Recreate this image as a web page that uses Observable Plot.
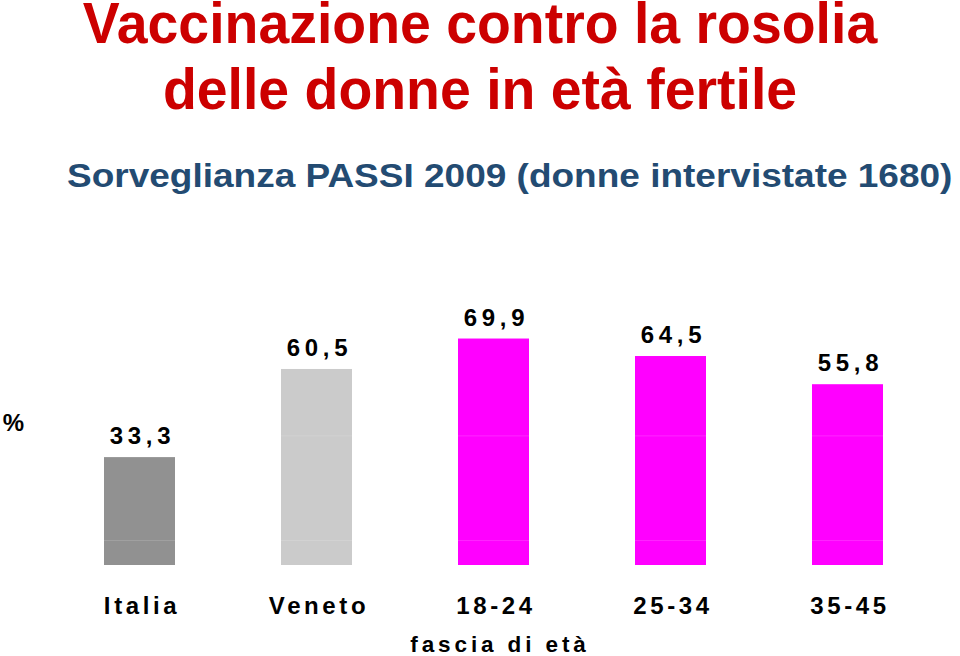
<!DOCTYPE html>
<html>
<head>
<meta charset="utf-8">
<script src="https://cdn.jsdelivr.net/npm/d3@7"></script>
<script src="https://cdn.jsdelivr.net/npm/@observablehq/plot@0.6"></script>
<style>
  html, body { margin: 0; padding: 0; background: #fff; }
  #page { position: relative; width: 960px; height: 656px; overflow: hidden; }
  #head { position: relative; width: 960px; height: 240px; }
  .t { position: absolute; left: 0; width: 960px; text-align: center;
       font-family: "Liberation Sans", Arial, sans-serif; font-weight: bold;
       color: #cc0000; font-size: 57px; line-height: 44px; white-space: nowrap;
       transform: scaleX(0.972); transform-origin: 481px center; }
  #sub { position: absolute; left: 67px; top: 155px; font-family: "Liberation Sans", Arial, sans-serif;
         font-weight: bold; color: #234b72; font-size: 34px; line-height: 40px; white-space: nowrap;
         transform: scaleX(1.088); transform-origin: left center; }
  #chart { position: absolute; left: 0; top: 240px; }
</style>
</head>
<body>
<div id="page">
  <div id="head">
    <div class="t" style="top:1px">Vaccinazione contro la rosolia</div>
    <div class="t" style="top:67px">delle donne in età fertile</div>
    <div id="sub">Sorveglianza PASSI 2009 (donne intervistate 1680)</div>
  </div>
  <div id="chart"></div>
</div>
<script>
const categories = ["Italia", "Veneto", "18-24", "25-34", "35-45"];
const values = [33.3, 60.5, 69.9, 64.5, 55.8];
const barColors = ["#919191", "#cbcbcb", "#ff00ff", "#ff00ff", "#ff00ff"];
const valueLabels = ["33,3", "60,5", "69,9", "64,5", "55,8"];
const gridLines = [7.7, 40];
const yLabel = "%";
const xLabel = "fascia di età";

const data = categories.map((c, i) => ({cat: c, value: values[i], color: barColors[i], label: valueLabels[i]}));

const font = "'Liberation Sans', Arial, sans-serif";

const chart = Plot.plot({
  width: 960,
  height: 416,
  marginLeft: 51,
  marginRight: 24,
  marginTop: 1,
  marginBottom: 91,
  style: {fontFamily: font, fontWeight: "bold", color: "#000", background: "#fff"},
  x: {domain: categories, paddingInner: 0.6, paddingOuter: 0.3, label: null},
  y: {domain: [0, 100], axis: null},
  marks: [
    Plot.barY(data, {x: "cat", y: "value", fill: "color"}),
    Plot.ruleY(gridLines, {stroke: "#fff", strokeOpacity: 0.15, strokeWidth: 1}),
    Plot.text(data, {x: "cat", y: "value", text: "label", lineAnchor: "middle", dy: -21, dx: 2.5,
      fontSize: 24, fontWeight: "bold", fill: "#000"}),
    Plot.axisX({tickSize: 0, tickPadding: 31, fontSize: 24, fontWeight: "bold", label: null, dx: 2}),
    Plot.text([xLabel], {frameAnchor: "bottom", lineAnchor: "middle", dy: 79, dx: 6,
      fontSize: 22.5, fontWeight: "bold", fill: "#000", textAnchor: "middle"}),
    Plot.text([yLabel], {frameAnchor: "left", lineAnchor: "middle", dx: -38, dy: 20,
      fontSize: 24, fontWeight: "bold", fill: "#000", textAnchor: "middle"})
  ]
});
const textGroups = d3.select(chart).selectAll('g[aria-label="text"]').nodes();
d3.select(textGroups[0]).selectAll("text").style("letter-spacing", "4.7px");
d3.select(textGroups[1]).selectAll("text").style("letter-spacing", "3.9px");
d3.select(chart).selectAll('g[aria-label="x-axis tick label"] text').style("letter-spacing", "3.6px");
document.getElementById("chart").appendChild(chart);
</script>
</body>
</html>
